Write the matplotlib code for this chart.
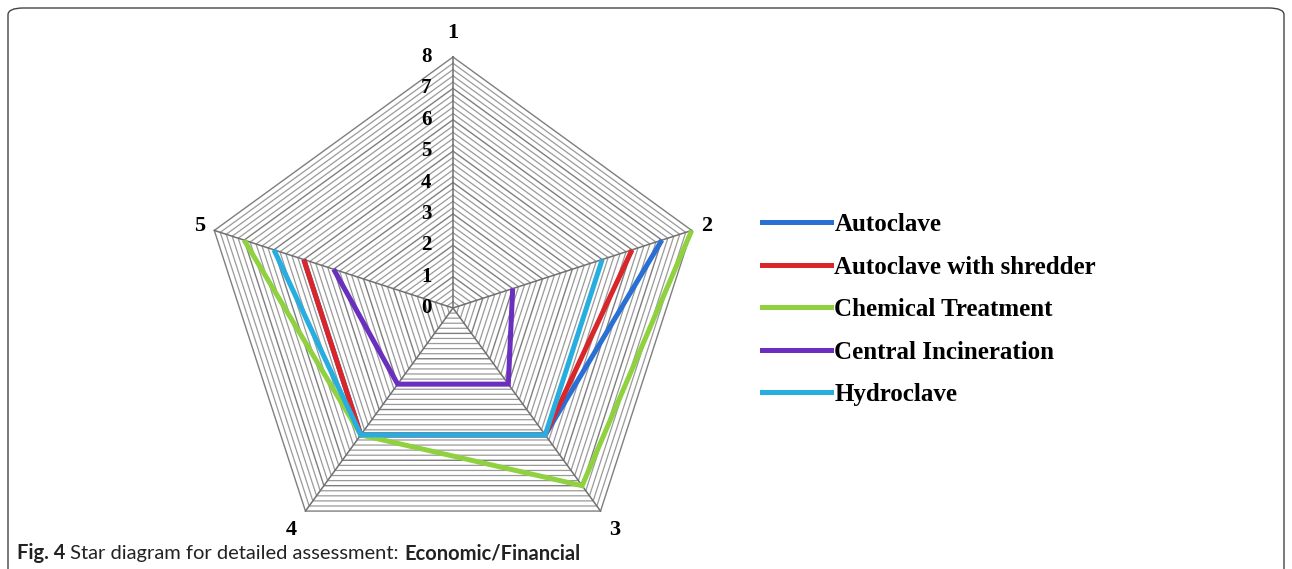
import numpy as np
import matplotlib.pyplot as plt
from matplotlib.lines import Line2D
from matplotlib.patches import FancyBboxPatch

# --- data ---
axis_labels = ['1', '2', '3', '4', '5']
series_names = ['Autoclave', 'Autoclave with shredder', 'Chemical Treatment',
                'Central Incineration', 'Hydroclave']
autoclave = [np.nan, 7, 5, 5, 5]
autoclave_shredder = [np.nan, 6, 5, 5, 5]
chemical = [np.nan, 8, 7, 5, 7]
incineration = [np.nan, 2, 3, 3, 4]
hydroclave = [np.nan, 5, 5, 5, 6]
scale_ticks = [0, 1, 2, 3, 4, 5, 6, 7, 8]

colors = ['#2a6fd4', '#d9262a', '#8fd13f', '#6a2fbf', '#27aee0']
all_series = [autoclave, autoclave_shredder, chemical, incineration, hydroclave]

W, H = 1292, 569
fig = plt.figure(figsize=(W / 100, H / 100), dpi=100)

# radar axes placed in pixels: centre (453, 308), 8 units = 251 px
k = 251 / 8
cx, cy = 453, H - 308
xl, xr, yb, yt = -9.5, 9.5, -8.0, 9.2
ax = fig.add_axes([(cx + xl * k) / W, (cy + yb * k) / H,
                   (xr - xl) * k / W, (yt - yb) * k / H])
ax.set_xlim(xl, xr)
ax.set_ylim(yb, yt)
ax.axis('off')

n = len(axis_labels)
theta = np.pi / 2 - 2 * np.pi * np.arange(n) / n
cs, sn = np.cos(theta), np.sin(theta)
vmax = scale_ticks[-1]

# hatched-looking grid: rings every 0.2
for r in np.arange(0.2, vmax + 0.01, 0.2):
    major = abs(r - round(r)) < 1e-6
    xs = np.append(r * cs, r * cs[0])
    ys = np.append(r * sn, r * sn[0])
    ax.plot(xs, ys, color='#7e7e7e' if major else '#9a9a9a',
            lw=1.0 if major else 0.9, zorder=1)
for i in range(n):
    ax.plot([0, vmax * cs[i]], [0, vmax * sn[i]], color='#707070', lw=1.1, zorder=2)

serif = ['Liberation Serif', 'DejaVu Serif']
for t in scale_ticks:
    ax.text(-0.85, t, str(t), ha='center', va='center', fontsize=15,
            fontweight='bold', family=serif)

lab_r = [8.75, 8.5, 8.75, 8.75, 8.5]
for i, lab in enumerate(axis_labels):
    ax.text(lab_r[i] * cs[i], lab_r[i] * sn[i], lab, ha='center', va='center',
            fontsize=16, fontweight='bold', family=serif)

for vals, c in zip(all_series, colors):
    v = np.array(vals, dtype=float)
    ax.plot(v * cs, v * sn, color=c, lw=3.6, solid_joinstyle='miter',
            solid_capstyle='butt', zorder=3)

handles = [Line2D([], [], color=c, lw=3.6) for c in colors]
fig.legend(handles, series_names, loc='upper left',
           bbox_to_anchor=(762 / W, 1 - 213 / H), frameon=False,
           handlelength=2.75, handletextpad=0.15, labelspacing=0.78,
           borderpad=0, borderaxespad=0,
           prop={'family': serif, 'weight': 'bold', 'size': 18})

# frame round the figure
frame = FancyBboxPatch((8 / W, -0.05), 1276 / W, (H - 8) / H + 0.05,
                       boxstyle='round,pad=0,rounding_size=0.012',
                       transform=fig.transFigure, fill=False,
                       edgecolor='#444444', lw=1.0)
fig.patches.append(frame)

# caption with mixed weights
renderer = fig.canvas.get_renderer()
x = 17 / W
y = 1 - 553 / H
parts = [('Fig. 4', 'bold'), (' Star diagram for detailed assessment: ', 'normal'),
         ('Economic/Financial', 'bold')]
for txt, wt in parts:
    t = fig.text(x, y, txt, fontsize=14.5, fontweight=wt, family=['Lato', 'DejaVu Sans'],
                 ha='left', va='center', color='#222222')
    bb = t.get_window_extent(renderer)
    x += bb.width / W

fig.savefig('out.png', dpi=100)
